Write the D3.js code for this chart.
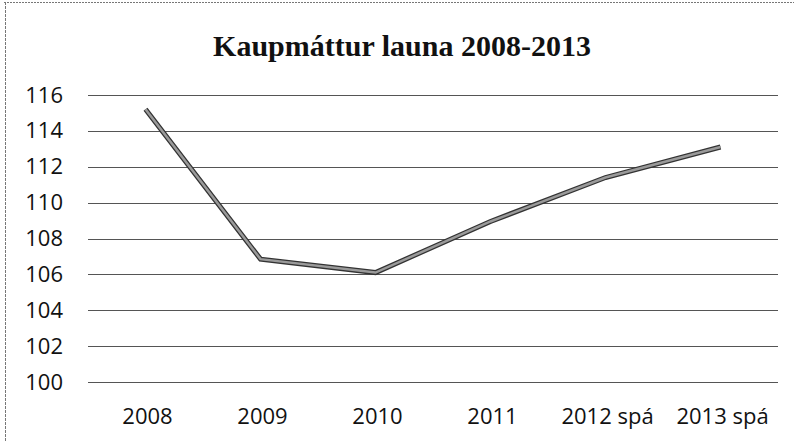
<!DOCTYPE html>
<html>
<head>
<meta charset="utf-8">
<script src="https://cdn.jsdelivr.net/npm/d3@7"></script>
<style>
  body { margin: 0; background: #fff; }
  text { fill: #111; }
</style>
</head>
<body>
<svg id="chart" width="794" height="442"></svg>
<script>
const categories = ["2008", "2009", "2010", "2011", "2012 spá", "2013 spá"];
const values = [115.2, 106.85, 106.1, 108.95, 111.4, 113.1];
const yTicks = [100, 102, 104, 106, 108, 110, 112, 114, 116];
const title = "Kaupmáttur launa 2008-2013";

const width = 794;
const height = 442;
const margin = { top: 95, right: 16, bottom: 60, left: 88 };

const svg = d3.select("#chart");

// frame (scanned look: only top and left edges visible)
svg.append("line")
  .attr("x1", 4).attr("x2", width).attr("y1", 2.5).attr("y2", 2.5)
  .attr("stroke", "#777").attr("stroke-dasharray", "2,1");
svg.append("line")
  .attr("x1", 5.5).attr("x2", 5.5).attr("y1", 2).attr("y2", height)
  .attr("stroke", "#777").attr("stroke-dasharray", "3,1");

const xScale = d3.scaleBand()
  .domain(categories)
  .range([margin.left, width - margin.right]);

const yScale = d3.scaleLinear()
  .domain([100, 116])
  .range([382, 95]);

// gridlines
svg.append("g")
  .selectAll("line")
  .data(yTicks)
  .enter()
  .append("line")
  .attr("x1", margin.left)
  .attr("x2", width - margin.right)
  .attr("y1", d => Math.round(yScale(d)) + 0.5)
  .attr("y2", d => Math.round(yScale(d)) + 0.5)
  .attr("stroke", "#555")
  .attr("stroke-width", 1);

// y axis
const yAxis = d3.axisLeft(yScale).tickValues(yTicks).tickSize(0).tickPadding(0);
svg.append("g")
  .attr("transform", `translate(63, 0)`)
  .call(yAxis)
  .call(g => g.select(".domain").remove())
  .selectAll("text")
  .attr("font-family", "'Open Sans', sans-serif")
  .attr("font-size", 22)
  .style("fill", "#111");

// x axis
const xAxis = d3.axisBottom(xScale).tickSize(0).tickPadding(0);
svg.append("g")
  .attr("transform", `translate(2, 408)`)
  .call(xAxis)
  .call(g => g.select(".domain").remove())
  .selectAll("text")
  .attr("font-family", "'Open Sans', sans-serif")
  .attr("font-size", 22)
  .style("fill", "#111");

// line
const line = d3.line()
  .x((d, i) => xScale(categories[i]) + xScale.bandwidth() / 2)
  .y(d => yScale(d));

svg.append("path")
  .datum(values)
  .attr("d", line)
  .attr("fill", "none")
  .attr("stroke", "#333")
  .attr("stroke-width", 5);

svg.append("path")
  .datum(values)
  .attr("d", line)
  .attr("fill", "none")
  .attr("stroke", "#9a9a9a")
  .attr("stroke-width", 2.5);

// title
svg.append("text")
  .attr("x", 402)
  .attr("y", 56)
  .attr("text-anchor", "middle")
  .attr("font-family", "'Liberation Serif', 'Times New Roman', serif")
  .attr("font-weight", "bold")
  .attr("font-size", 30)
  .text(title);
</script>
</body>
</html>
